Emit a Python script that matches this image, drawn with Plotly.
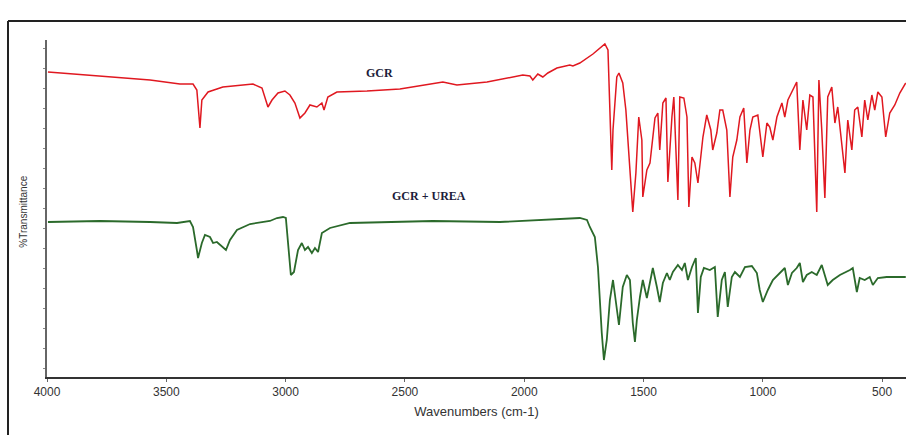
import plotly.graph_objects as go

# FTIR spectra: wavenumber (cm-1) vs %Transmittance (offset traces)
gcr_wn = [3996, 3778, 3568, 3443, 3388, 3372, 3359, 3351, 3325, 3263, 3137, 3099, 3074, 3057,
          3032, 3003, 2982, 2961, 2940, 2919, 2898, 2869, 2848, 2839, 2823, 2785, 2659, 2521,
          2366, 2341, 2282, 2156, 2006, 1976, 1964, 1943, 1922, 1901, 1863, 1809, 1796, 1767,
          1712, 1662, 1649, 1633, 1628, 1612, 1603, 1587, 1574, 1557, 1545, 1532, 1520, 1507,
          1503, 1486, 1473, 1452, 1440, 1432, 1419, 1406, 1398, 1381, 1373, 1356, 1348, 1331,
          1318, 1310, 1297, 1285, 1272, 1251, 1235, 1218, 1210, 1193, 1180, 1168, 1151, 1138,
          1126, 1109, 1096, 1080, 1067, 1054, 1042, 1021, 1000, 983, 971, 958, 941, 920, 908,
          895, 858, 845, 832, 816, 803, 790, 774, 765, 753, 740, 728, 711, 698, 686, 669, 656,
          644, 627, 615, 602, 585, 573, 560, 543, 531, 518, 501, 485, 468, 447, 426, 401]
gcr_t = [74.0, 73.0, 72.0, 71.0, 71.0, 69.5, 60.0, 67.0, 69.0, 70.25, 71.0, 70.0, 65.25, 67.0,
         68.75, 69.25, 68.25, 66.25, 62.5, 63.75, 65.75, 65.25, 66.25, 64.5, 67.75, 69.0, 69.25, 69.75,
         71.25, 71.5, 70.75, 71.5, 73.25, 73.0, 72.0, 73.5, 72.75, 73.75, 75.0, 75.75, 75.5, 76.25,
         78.5, 81.0, 79.5, 49.5, 59.5, 72.75, 73.75, 71.25, 64.5, 49.5, 39.0, 48.75, 62.75, 57.0,
         42.75, 49.5, 51.25, 62.5, 63.75, 54.5, 66.25, 67.5, 46.5, 62.75, 67.75, 42.0, 67.75, 67.5,
         62.75, 40.25, 52.75, 51.25, 46.25, 57.75, 63.25, 59.5, 54.5, 58.75, 64.5, 64.5, 59.5, 42.75,
         52.75, 57.0, 62.75, 65.0, 51.25, 59.5, 62.75, 63.25, 52.75, 61.25, 60.25, 57.0, 62.75, 66.25, 62.75,
         67.0, 71.5, 54.5, 67.0, 59.5, 68.25, 67.75, 39.0, 72.0, 59.5, 42.5, 67.75, 70.25, 61.25, 65.25, 56.25, 48.75,
         62.0, 54.5, 64.5, 65.25, 57.75, 67.0, 62.0, 68.25, 64.5, 69.0, 67.75, 57.75, 63.75, 65.75, 68.75, 71.25]

urea_wn = [3996, 3778, 3568, 3455, 3401, 3388, 3372, 3367, 3351, 3338, 3317, 3304, 3288, 3275,
           3263, 3250, 3233, 3204, 3149, 3066, 3036, 3011, 2999, 2990, 2978, 2965, 2948, 2932,
           2919, 2906, 2890, 2877, 2864, 2848, 2814, 2730, 2592, 2383, 2102, 1821, 1767, 1737,
           1725, 1704, 1691, 1675, 1666, 1654, 1641, 1628, 1612, 1603, 1587, 1570, 1557, 1545,
           1536, 1528, 1515, 1503, 1486, 1473, 1461, 1444, 1432, 1419, 1402, 1390, 1377, 1356,
           1339, 1327, 1314, 1297, 1281, 1272, 1260, 1247, 1222, 1201, 1189, 1172, 1159, 1147,
           1130, 1117, 1096, 1075, 1046, 1025, 1013, 1000, 979, 958, 929, 908, 895, 878, 858,
           845, 832, 816, 795, 774, 753, 740, 728, 707, 677, 635, 623, 606, 594, 573, 552, 539,
           518, 481, 401]
urea_t = [36.5, 36.75, 36.5, 36.25, 36.75, 35.25, 29.5, 27.5, 31.25, 33.25, 32.75, 31.25, 31.5, 30.75,
          30.0, 29.5, 32.0, 34.5, 36.0, 36.75, 37.5, 37.75, 37.5, 31.25, 23.25, 24.0, 29.5, 31.25,
          29.5, 30.25, 28.75, 30.0, 29.0, 33.75, 35.0, 36.25, 36.5, 36.75, 36.5, 37.25, 37.5, 37.0,
          35.25, 32.75, 25.25, 8.75, 2.0, 7.0, 17.0, 22.0, 14.5, 10.75, 20.25, 23.25, 22.0, 11.25,
          6.5, 12.0, 17.75, 22.0, 17.5, 21.25, 25.0, 20.25, 16.5, 21.25, 23.75, 22.0, 24.0, 25.75,
          24.5, 26.25, 22.0, 25.25, 27.5, 13.75, 22.75, 25.0, 24.5, 25.25, 12.75, 22.0, 24.0, 15.25,
          22.75, 24.0, 22.75, 25.25, 25.5, 23.75, 19.5, 16.5, 19.5, 22.0, 23.75, 25.0, 20.75, 23.75, 25.0,
          26.25, 21.5, 23.25, 24.0, 23.25, 25.75, 23.25, 20.75, 22.0, 23.25, 24.5, 25.0, 19.0, 22.5, 22.0, 22.75, 20.75,
          22.5, 22.75, 22.75]

x_ticks = [4000, 3500, 3000, 2500, 2000, 1500, 1000, 500]
x_tick_labels = ["4000", "3500", "3000", "2500", "2000", "1500", "1000", "500"]

fig = go.Figure()
fig.add_trace(go.Scatter(x=gcr_wn, y=gcr_t, mode="lines", name="GCR",
                         line=dict(color="#e01820", width=1.5)))
fig.add_trace(go.Scatter(x=urea_wn, y=urea_t, mode="lines", name="GCR + UREA",
                         line=dict(color="#2b6a2b", width=1.8)))

label_font = dict(family="Liberation Serif", size=12, color="#1c1c3a")
fig.add_annotation(x=2605, y=73.75, text="<b>GCR</b>", showarrow=False, font=label_font)
fig.add_annotation(x=2400, y=43.0, text="<b>GCR + UREA</b>", showarrow=False, font=label_font)

# rotated y-axis caption
fig.add_annotation(xref="paper", yref="paper", x=-0.027, y=0.49, xanchor="center",
                   yanchor="middle", text="%Transmittance", textangle=-90, showarrow=False,
                   font=dict(family="Liberation Sans", size=10, color="#333"))

# outer frame around the figure
frame = dict(color="#222", width=2)
fig.add_shape(type="line", xref="paper", yref="paper", x0=-0.0454, x1=-0.0454,
              y0=1.0564, y1=-0.2, line=frame)
fig.add_shape(type="line", xref="paper", yref="paper", x0=-0.0454, x1=1.01,
              y0=1.0564, y1=1.0564, line=frame)

fig.update_layout(
    width=906, height=435,
    margin=dict(l=47, r=0, t=40, b=58),
    paper_bgcolor="white", plot_bgcolor="white",
    showlegend=False,
    xaxis=dict(
        range=[4000, 400], tickvals=x_ticks, ticktext=x_tick_labels,
        showline=True, linecolor="#333", linewidth=2, mirror=False,
        showgrid=False, zeroline=False,
        ticks="outside", ticklen=3, tickcolor="#666",
        tickfont=dict(family="Liberation Sans", size=12, color="#333"),
        title=dict(text="Wavenumbers (cm-1)", standoff=8,
                   font=dict(family="Liberation Sans", size=13, color="#333")),
    ),
    yaxis=dict(
        range=[-2.25, 82], showline=True, linecolor="#666", linewidth=1.5,
        showgrid=False, zeroline=False, showticklabels=False,
        ticks="outside", ticklen=2, tickcolor="#888", dtick=5,
    ),
)

fig.write_html("out.html")
